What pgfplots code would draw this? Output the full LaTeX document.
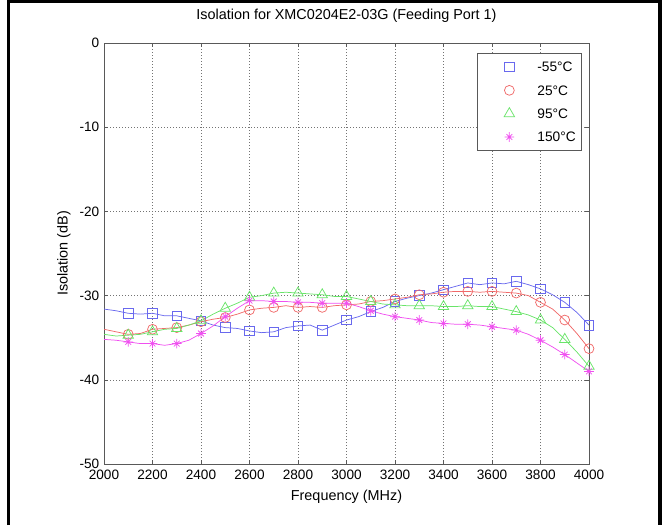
\documentclass[border=0pt]{standalone}
\usepackage{fontspec}
\setmainfont{Liberation Sans}
\usepackage{pgfplots}
\usepackage{pgfplotstable}
\pgfplotsset{compat=1.18}
\definecolor{cB}{RGB}{105,105,238}
\definecolor{cR}{RGB}{240,105,105}
\definecolor{cG}{RGB}{105,228,105}
\definecolor{cM}{RGB}{240,80,240}
\pgfdeclareplotmark{mstar}{%
  \pgfpathmoveto{\pgfqpoint{-\pgfplotmarksize}{0pt}}\pgfpathlineto{\pgfqpoint{\pgfplotmarksize}{0pt}}%
  \pgfpathmoveto{\pgfqpoint{0pt}{-\pgfplotmarksize}}\pgfpathlineto{\pgfqpoint{0pt}{\pgfplotmarksize}}%
  \pgfpathmoveto{\pgfqpoint{-0.6\pgfplotmarksize}{-0.6\pgfplotmarksize}}\pgfpathlineto{\pgfqpoint{0.6\pgfplotmarksize}{0.6\pgfplotmarksize}}%
  \pgfpathmoveto{\pgfqpoint{-0.6\pgfplotmarksize}{0.6\pgfplotmarksize}}\pgfpathlineto{\pgfqpoint{0.6\pgfplotmarksize}{-0.6\pgfplotmarksize}}%
  \pgfusepathqstroke}
\pgfplotstableread{
f     m55    p25    p95    p150
2000 -31.6 -34.0 -34.6 -35.2
2050 -31.8 -34.3 -34.8 -35.3
2100 -32.1 -34.6 -34.7 -35.5
2150 -32.2 -34.5 -34.6 -35.7
2200 -32.1 -34.0 -34.3 -35.7
2250 -32.4 -33.9 -34.0 -35.9
2300 -32.4 -33.8 -33.9 -35.7
2350 -32.7 -33.5 -33.5 -35.3
2400 -33.0 -33.1 -33.0 -34.5
2450 -33.5 -32.8 -32.2 -33.6
2500 -33.8 -32.6 -31.5 -32.5
2550 -33.9 -32.2 -30.9 -31.5
2600 -34.2 -31.7 -30.2 -30.6
2650 -34.4 -31.5 -30.0 -30.6
2700 -34.3 -31.4 -29.7 -30.7
2750 -33.8 -31.2 -29.6 -30.7
2800 -33.6 -31.4 -29.7 -30.8
2850 -33.5 -31.3 -29.8 -30.8
2900 -34.1 -31.4 -29.9 -30.9
2950 -33.5 -31.2 -30.1 -30.9
3000 -32.9 -31.1 -30.1 -30.9
3050 -32.5 -31.0 -30.4 -31.3
3100 -31.9 -30.7 -30.7 -31.8
3150 -31.4 -30.6 -31.0 -32.2
3200 -30.7 -30.4 -31.1 -32.5
3250 -30.3 -30.2 -31.2 -32.7
3300 -30.0 -29.9 -31.2 -32.9
3350 -29.7 -29.8 -31.2 -33.2
3400 -29.3 -29.6 -31.3 -33.3
3450 -28.9 -29.5 -31.3 -33.4
3500 -28.5 -29.5 -31.2 -33.4
3550 -28.7 -29.6 -31.3 -33.5
3600 -28.5 -29.5 -31.3 -33.7
3650 -28.6 -29.6 -31.6 -33.9
3700 -28.3 -29.7 -31.9 -34.1
3750 -28.7 -30.0 -32.3 -34.6
3800 -29.2 -30.8 -32.9 -35.3
3850 -29.9 -31.6 -33.8 -36.1
3900 -30.8 -32.9 -35.2 -37.0
3950 -32.0 -34.5 -36.7 -38.0
4000 -33.5 -36.3 -38.4 -39.0
}\datatable
\begin{document}
\begin{tikzpicture}
\useasboundingbox (0,0) rectangle (499.5pt,393.75pt);
\draw[line width=2.4pt] (6.4pt,0) -- (6.4pt,392.5pt) -- (495pt,392.5pt) -- (495pt,0);
\begin{axis}[
  at={(78pt,45.75pt)}, anchor=south west,
  scale only axis, width=363.75pt, height=315.75pt,
  xmin=2000, xmax=4000, ymin=-50, ymax=0,
  xtick={2000,2200,...,4000}, ytick={-50,-40,...,0},
  /pgf/number format/assume math mode=true,
  /pgf/number format/1000 sep={},
  tick label style={font=\fontsize{10.2}{12}\selectfont, inner ysep=0pt},
  xticklabel style={yshift=-4pt},
  label style={font=\fontsize{10.8}{13}\selectfont},
  tick align=inside, major tick length=3pt,
  axis line style={black!65}, tick style={black!65},
  grid=major,
  major grid style={black!55, dash pattern=on 0.75pt off 1.5pt, line width=0.4pt},
  title={Isolation for XMC0204E2-03G (Feeding Port 1)},
  title style={at={(axis description cs:0.5,1.045)}, anchor=center, yshift=0pt, font=\fontsize{10.8}{13}\selectfont},
  xlabel={Frequency (MHz)},
  ylabel={Isolation (dB)},
  xlabel style={at={(axis description cs:0.5,-0.078)}, anchor=center},
  ylabel style={at={(axis description cs:-0.0825,0.5)}, anchor=center},
  every axis plot/.append style={line width=0.55pt, mark repeat=2, mark phase=3,
    legend image code/.code={\path[draw=none,fill=none] (0,0) -- (40.5pt,0); \draw[mark repeat=1, mark phase=1] plot coordinates {(19.5pt,0pt)};}},
  legend cell align=left,
  legend style={at={(axis description cs:0.9856,0.9755)}, anchor=north east,
    draw=black!65, line width=0.5pt, font=\fontsize{10.3}{12}\selectfont,
    row sep=7.5pt, column sep=0pt, inner xsep=4.5pt, inner ysep=5pt,
    nodes={inner sep=0pt, text height=8.7pt, text depth=1.3pt}},
]
\addplot[cB, mark=square, mark size=3.6pt] table[x=f,y=m55] {\datatable};
\addlegendentry{-55°C}
\addplot[cR, mark=o, mark size=3.7pt] table[x=f,y=p25] {\datatable};
\addlegendentry{25°C}
\addplot[cG, mark=triangle, mark size=4.5pt] table[x=f,y=p95] {\datatable};
\addlegendentry{95°C}
\addplot[cM, mark=mstar, mark size=3.6pt] table[x=f,y=p150] {\datatable};
\addlegendentry{150°C}
\end{axis}
\end{tikzpicture}
\end{document}
